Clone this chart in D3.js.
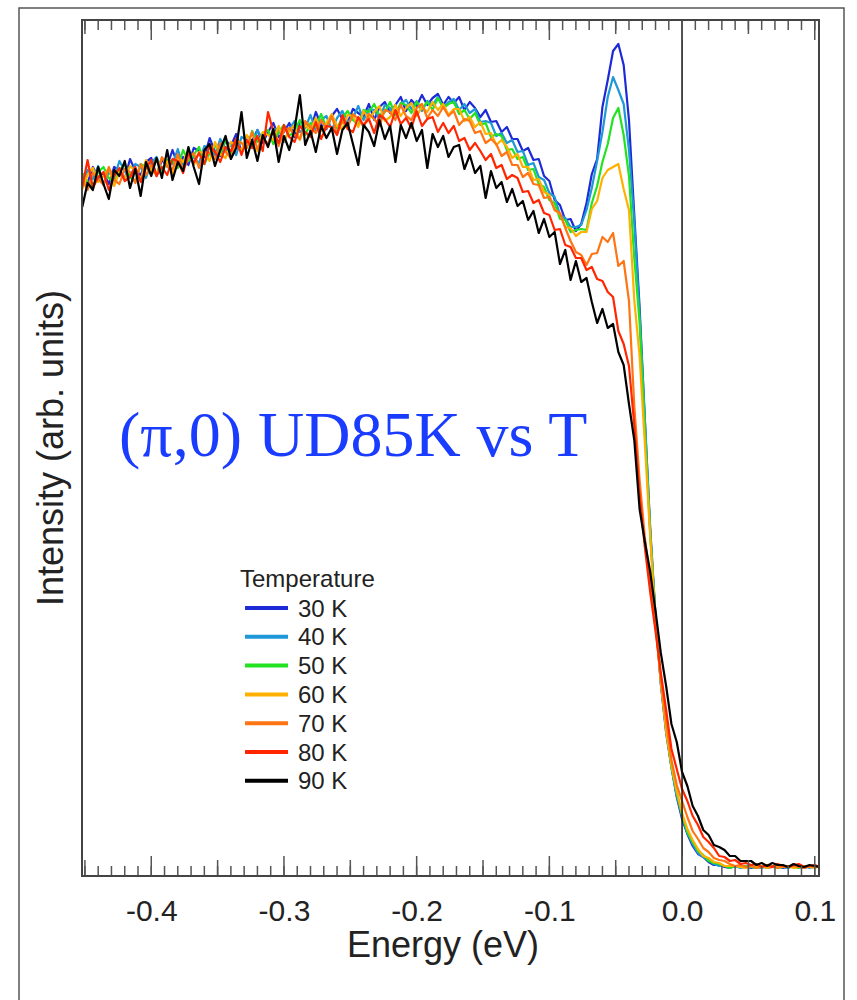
<!DOCTYPE html>
<html>
<head>
<meta charset="utf-8">
<script src="https://cdn.jsdelivr.net/npm/d3@7"></script>
<style>
  html, body { margin: 0; padding: 0; background: #fff; }
  svg { display: block; }
</style>
</head>
<body>
<svg id="chart" width="857" height="1000"></svg>
<script>
// Binding energy grid (eV)
const energy = [
  -0.452,-0.448,-0.444,-0.440,-0.436,-0.432,-0.428,-0.424,-0.420,-0.416,
  -0.412,-0.408,-0.404,-0.400,-0.396,-0.392,-0.388,-0.384,-0.380,-0.376,
  -0.372,-0.368,-0.364,-0.360,-0.356,-0.352,-0.348,-0.344,-0.340,-0.336,
  -0.332,-0.328,-0.324,-0.320,-0.316,-0.312,-0.308,-0.304,-0.300,-0.296,
  -0.292,-0.288,-0.284,-0.280,-0.276,-0.272,-0.268,-0.264,-0.260,-0.256,
  -0.252,-0.248,-0.244,-0.240,-0.236,-0.232,-0.228,-0.224,-0.220,-0.216,
  -0.212,-0.208,-0.204,-0.200,-0.196,-0.192,-0.188,-0.184,-0.180,-0.176,
  -0.172,-0.168,-0.164,-0.160,-0.156,-0.152,-0.148,-0.144,-0.140,-0.136,
  -0.132,-0.128,-0.124,-0.120,-0.116,-0.112,-0.108,-0.104,-0.100,-0.096,
  -0.092,-0.088,-0.084,-0.080,-0.076,-0.072,-0.068,-0.064,-0.060,-0.056,
  -0.052,-0.048,-0.044,-0.040,-0.036,-0.032,-0.028,-0.024,-0.020,-0.016,
  -0.012,-0.008,-0.004,0.000,0.004,0.008,0.012,0.016,0.020,0.024,
  0.028,0.032,0.036,0.040,0.044,0.048,0.052,0.056,0.060,0.064,
  0.068,0.072,0.076,0.080,0.084,0.088,0.092,0.096,0.100,0.104
];

// EDC intensities (arb. units) at each temperature
const edc30K = [
  694,685,701,690,695,684,701,697,689,709,
  697,693,706,710,692,708,702,718,703,711,
  703,720,717,711,730,716,712,728,722,734,
  716,732,727,738,725,736,745,731,736,745,
  731,746,744,738,756,743,739,752,759,749,
  745,759,755,751,764,748,761,766,755,763,
  771,757,768,762,773,763,770,774,763,771,
  765,771,758,766,760,751,758,746,747,736,
  741,729,729,717,720,708,709,692,687,668,
  663,648,649,637,644,665,694,709,761,788,
  817,824,803,748,653,561,447,340,252,184,
  135,101,71,49,34,22,14,11,6,3,
  3,1,0,2,1,2,0,1,2,0,
  1,2,0,1,2,1,0,2,1,2
];
const edc40K = [
  684,698,689,702,683,696,690,707,697,690,
  704,701,690,705,711,698,706,704,719,701,
  716,710,705,722,720,713,729,717,724,713,
  731,728,721,738,728,724,739,739,726,739,
  747,736,740,753,737,748,752,738,750,757,
  746,750,762,748,759,758,749,763,760,753,
  764,768,759,767,757,767,763,771,761,766,
  769,758,764,755,759,746,747,745,732,735,
  725,728,716,717,703,705,691,688,675,671,
  653,650,641,641,643,658,680,707,736,771,
  791,778,764,718,646,554,448,335,252,185,
  139,101,72,52,35,24,15,11,8,4,
  2,2,1,2,0,1,2,1,0,2,
  1,2,1,0,2,1,2,0,1,2
];
const edc50K = [
  695,686,681,696,701,690,685,697,704,691,
  686,704,701,696,709,694,708,707,700,718,
  707,713,721,704,715,723,713,729,713,726,
  725,720,737,726,734,738,724,736,743,732,
  737,748,733,745,741,754,740,752,740,750,
  757,748,743,758,756,764,752,756,766,753,
  765,763,755,766,759,766,758,770,760,764,
  766,754,758,749,755,743,745,731,734,732,
  718,719,709,711,698,699,684,681,668,665,
  649,648,636,638,639,638,665,682,706,724,
  750,760,733,692,610,546,439,336,249,187,
  138,101,75,53,36,26,17,13,7,5,
  4,2,0,2,1,2,1,0,2,1,
  2,0,1,2,1,0,2,1,2,1
];
const edc60K = [
  679,693,700,686,692,700,682,696,689,702,
  697,688,708,697,694,710,706,694,711,706,
  718,703,716,715,707,726,714,710,726,723,
  718,733,724,717,736,733,728,742,727,737,
  743,728,743,738,750,737,745,754,742,739,
  753,752,741,757,749,756,762,747,751,763,
  752,760,765,752,761,756,766,758,764,753,
  759,759,747,751,741,746,734,735,723,728,
  721,710,714,701,701,688,689,676,673,658,
  654,641,640,632,636,636,659,667,690,698,
  701,704,679,658,568,512,424,331,246,186,
  137,103,77,55,39,28,19,12,10,6,
  5,2,2,2,1,0,2,1,2,0,
  1,2,1,2,0,1,2,1,0,2
];
const edc70K = [
  689,678,695,690,683,701,688,684,699,696,
  685,704,693,703,692,711,701,699,714,698,
  710,715,700,716,715,709,725,716,710,728,
  725,720,736,719,730,724,739,722,737,740,
  733,729,747,741,735,748,740,752,734,747,
  741,754,749,741,754,749,742,758,756,748,
  763,752,748,760,764,750,758,752,761,752,
  757,743,749,747,735,737,725,729,724,712,
  716,703,703,691,695,684,683,670,671,658,
  655,640,627,616,613,603,614,615,631,626,
  635,602,607,567,462,388,330,287,242,189,
  147,108,83,67,51,37,29,20,16,10,
  8,7,4,2,3,1,2,0,1,2,
  1,0,2,1,2,1,0,2,1,2
];
const edc80K = [
  681,708,680,691,696,678,692,700,687,691,
  701,686,700,708,692,701,693,709,707,695,
  715,705,715,704,723,716,706,721,717,729,
  713,728,720,732,717,756,736,725,743,731,
  726,742,736,731,746,729,742,741,733,753,
  739,736,751,743,749,735,753,749,741,758,
  744,750,740,757,742,749,751,736,745,735,
  742,727,730,718,725,717,708,714,700,703,
  689,693,690,676,677,665,668,655,653,638,
  639,623,621,610,610,598,601,589,587,576,
  571,537,524,502,443,373,320,276,237,195,
  158,119,99,79,67,52,43,31,26,20,
  12,11,7,8,4,5,3,4,1,3,
  1,4,2,1,3,4,1,2,3,1
];
const edc90K = [
  661,685,678,701,684,669,698,692,707,680,
  699,672,706,692,710,690,718,688,706,697,
  721,701,684,718,724,702,718,732,709,720,
  756,710,728,707,733,721,739,706,732,718,
  739,773,723,737,716,742,730,740,714,738,
  745,724,703,743,736,722,748,729,742,706,
  743,730,745,727,738,700,734,721,732,711,
  721,723,699,713,695,702,670,697,680,686,
  666,679,662,667,648,657,635,649,631,636,
  604,618,588,607,586,590,566,545,559,540,
  544,516,503,464,428,359,326,296,257,215,
  182,144,126,96,82,62,52,38,33,23,
  21,18,12,12,7,7,7,3,5,2,
  5,3,3,1,4,2,1,3,2,1
];

const temperatureLabels = ["30 K", "40 K", "50 K", "60 K", "70 K", "80 K", "90 K"];
const lineColors = ["#1c2bd6", "#1f98d8", "#22e222", "#ffb000", "#ff7415", "#ff2600", "#000000"];
const majorTickValues = [-0.4, -0.3, -0.2, -0.1, 0.0, 0.1];
const majorTickLabels = ["-0.4", "-0.3", "-0.2", "-0.1", "0.0", "0.1"];
const midTickValues = [-0.45, -0.35, -0.25, -0.15, -0.05, 0.05];

const series = [edc30K, edc40K, edc50K, edc60K, edc70K, edc80K, edc90K].map((values, k) => ({
  label: temperatureLabels[k], color: lineColors[k], values
}));

const svg = d3.select("#chart");
const sans = "'Liberation Sans', Arial, Helvetica, sans-serif";
const plot = { left: 82, right: 819, top: 20, bottom: 876 };

const x = d3.scaleLinear().domain([-0.4522, 0.1032]).range([plot.left, plot.right]);
const y = d3.scaleLinear().domain([-8, 848]).range([plot.bottom, plot.top]);

// page border
svg.append("rect")
  .attr("x", 19).attr("y", 8).attr("width", 825).attr("height", 1010)
  .attr("fill", "none").attr("stroke", "#555").attr("stroke-width", 1.5);

svg.append("defs").append("clipPath").attr("id", "plotClip")
  .append("rect")
  .attr("x", plot.left).attr("y", plot.top)
  .attr("width", plot.right - plot.left).attr("height", plot.bottom - plot.top);

// spectra
const line = d3.line()
  .x((d, i) => x(energy[i]))
  .y(d => y(d));

svg.append("g").attr("clip-path", "url(#plotClip)")
  .selectAll("path")
  .data(series)
  .join("path")
  .attr("d", s => line(s.values))
  .attr("fill", "none")
  .attr("stroke", s => s.color)
  .attr("stroke-width", 2.2)
  .attr("stroke-linejoin", "round");

// Fermi level marker
svg.append("line")
  .attr("x1", x(0)).attr("x2", x(0))
  .attr("y1", plot.top).attr("y2", plot.bottom)
  .attr("stroke", "#111").attr("stroke-width", 1.5);

// inward tick marks on top and bottom edges: minor every 0.01, mid at 0.05, major at 0.1
const minorTickValues = d3.range(-45, 11).map(k => k / 100);
const tickLayer = svg.append("g").attr("stroke", "#555").attr("stroke-width", 1.5);

function addTicks(values, bottomLen, topLen) {
  tickLayer.append("g").selectAll("line")
    .data(values).join("line")
    .attr("x1", d => x(d)).attr("x2", d => x(d))
    .attr("y1", plot.bottom).attr("y2", plot.bottom - bottomLen);
  tickLayer.append("g").selectAll("line")
    .data(values).join("line")
    .attr("x1", d => x(d)).attr("x2", d => x(d))
    .attr("y1", plot.top).attr("y2", plot.top + topLen);
}
addTicks(minorTickValues, 10, 10);
addTicks(midTickValues, 16, 14);
addTicks(majorTickValues, 20, 20);

// labelled bottom axis
svg.append("g")
  .attr("transform", `translate(0,${plot.bottom})`)
  .call(d3.axisBottom(x).tickValues(majorTickValues).tickSize(0).tickPadding(24)
    .tickFormat((d, i) => majorTickLabels[i]))
  .call(g => g.select(".domain").remove())
  .call(g => g.selectAll("text")
    .attr("font-family", sans).attr("font-size", 30).attr("fill", "#222"));

// plot frame
svg.append("rect")
  .attr("x", plot.left).attr("y", plot.top)
  .attr("width", plot.right - plot.left).attr("height", plot.bottom - plot.top)
  .attr("fill", "none").attr("stroke", "#444").attr("stroke-width", 2);

// axis titles
svg.append("text")
  .attr("x", 443).attr("y", 957)
  .attr("text-anchor", "middle")
  .attr("font-family", sans).attr("font-size", 36).attr("fill", "#222")
  .text("Energy (eV)");

svg.append("text")
  .attr("transform", "translate(63,448) rotate(-90)")
  .attr("text-anchor", "middle")
  .attr("font-family", sans).attr("font-size", 36).attr("fill", "#222")
  .text("Intensity (arb. units)");

// annotation
svg.append("text")
  .attr("x", 119).attr("y", 456)
  .attr("font-family", "'Liberation Serif', 'Times New Roman', serif")
  .attr("font-size", 64).attr("fill", "#1a3cff")
  .text("(π,0) UD85K vs T");

// legend
const legend = svg.append("g");
legend.append("text")
  .attr("x", 240).attr("y", 587)
  .attr("font-family", sans).attr("font-size", 24).attr("fill", "#222")
  .text("Temperature");

const rows = legend.selectAll("g.row")
  .data(series)
  .join("g")
  .attr("class", "row")
  .attr("transform", (d, k) => `translate(0,${608 + k * 28.8})`);
rows.append("line")
  .attr("x1", 245).attr("x2", 288)
  .attr("stroke", d => d.color).attr("stroke-width", 4);
rows.append("text")
  .attr("x", 298).attr("y", 8.5)
  .attr("font-family", sans).attr("font-size", 24).attr("fill", "#222")
  .text(d => d.label);
</script>
</body>
</html>
